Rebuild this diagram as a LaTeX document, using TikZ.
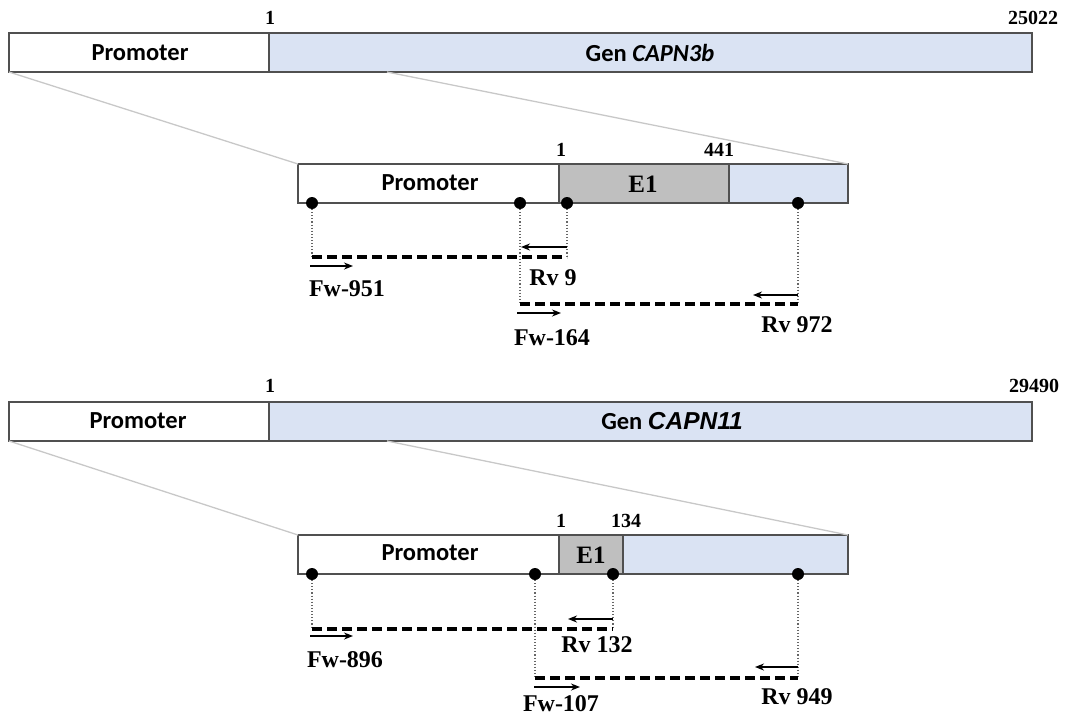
\documentclass[tikz,border=0pt]{standalone}
\usepackage{fontspec}
\setmainfont{Liberation Serif}
\newfontfamily\calfont{Carlito}
\newfontfamily\arialfont{Liberation Sans}
\usetikzlibrary{arrows.meta}
\definecolor{genblue}{HTML}{DAE3F3}
\definecolor{exgray}{HTML}{BFBFBF}
\definecolor{border}{HTML}{505050}
\definecolor{zoomline}{HTML}{C8C8C8}
\tikzset{
  seg/.style={draw=border, line width=1.6pt, anchor=north west, inner sep=0pt, outer sep=0pt},
  sanslbl/.style={font=\calfont\bfseries\fontsize{24.5}{28}\selectfont},
  numlbl/.style={font=\bfseries\fontsize{20}{22}\selectfont, inner sep=0pt},
  primlbl/.style={font=\bfseries\fontsize{24}{27}\selectfont, inner sep=0pt},
  exlbl/.style={font=\bfseries\fontsize{25}{28}\selectfont, inner sep=0pt},
  dotnode/.style={circle, fill=black, inner sep=0pt, outer sep=0pt, minimum size=12pt},
  zoomln/.style={draw=zoomline, line width=1.3pt},
  guide/.style={draw=gray!80!black, line width=1.1pt, dotted},
  product/.style={draw=black, line width=3.4pt, dash pattern=on 10pt off 5pt},
  primer/.style={draw=black, line width=1.7pt, -{Stealth[length=9pt,width=7pt]}},
}
\begin{document}
\begin{tikzpicture}[x=1pt,y=-1pt]
\useasboundingbox (0,0) rectangle (1065,712);
% ===== CAPN3b =====
\node[seg, fill=white, minimum width=260pt, minimum height=39pt] (p1) at (9,33) {};
\node[seg, fill=genblue, minimum width=763pt, minimum height=39pt] (g1) at (269,33) {};
\node[sanslbl] (p1t) at (140,53) {Promoter};
\node[sanslbl] (g1t) at (650,53) {Gen \textit{CAPN3b}};
\node[numlbl] (n1a) at (270,18) {1};
\node[numlbl] (n1b) at (1033,18) {25022};
\node[seg, fill=white, minimum width=261pt, minimum height=39pt] (lp1) at (298,164) {};
\node[seg, fill=exgray, minimum width=170pt, minimum height=39pt] (le1) at (559,164) {};
\node[seg, fill=genblue, minimum width=119pt, minimum height=39pt] (lg1) at (729,164) {};
\node[sanslbl] (lp1t) at (430,183) {Promoter};
\node[exlbl] (le1t) at (643,184) {E1};
\node[numlbl] (n1c) at (561,150) {1};
\node[numlbl] (n1d) at (719,150) {441};
\coordinate (z1) at (387,72);
\draw[zoomln] (p1.south west) -- (lp1.north west);
\draw[zoomln] (z1) -- (lg1.north east);
% markers
\node[dotnode] (d11) at (312,203) {};
\node[dotnode] (d12) at (520,203) {};
\node[dotnode] (d13) at (567,203) {};
\node[dotnode] (d14) at (798,203) {};
\coordinate (c11) at (312,257);
\coordinate (c13) at (567,257);
\coordinate (c12) at (520,304);
\coordinate (c14) at (798,304);
\draw[guide] (d11) -- (c11);
\draw[guide] (d13) -- (c13);
\draw[guide] (d12) -- (c12);
\draw[guide] (d14) -- (c14);
\draw[product] (c11) -- (c13);
\draw[product] (c12) -- (c14);
\coordinate (a1s) at (310,266); \coordinate (a1e) at (353,266);
\coordinate (a2s) at (567,247); \coordinate (a2e) at (521,247);
\coordinate (a3s) at (517,313); \coordinate (a3e) at (561,313);
\coordinate (a4s) at (798,295); \coordinate (a4e) at (753,295);
\draw[primer] (a1s) -- (a1e);
\draw[primer] (a2s) -- (a2e);
\draw[primer] (a3s) -- (a3e);
\draw[primer] (a4s) -- (a4e);
\node[primlbl] (l11) at (347,289) {Fw-951};
\node[primlbl] (l12) at (553,278) {Rv 9};
\node[primlbl] (l13) at (552,338) {Fw-164};
\node[primlbl] (l14) at (797,325) {Rv 972};
% ===== CAPN11 =====
\node[seg, fill=white, minimum width=260pt, minimum height=39pt] (p2) at (9,402) {};
\node[seg, fill=genblue, minimum width=763pt, minimum height=39pt] (g2) at (269,402) {};
\node[sanslbl] (p2t) at (138,421) {Promoter};
\node[font=\calfont\bfseries\fontsize{24.5}{28}\selectfont] (g2t) at (672,421) {Gen {\arialfont\bfseries\itshape CAPN11}};
\node[numlbl] (n2a) at (270,386) {1};
\node[numlbl] (n2b) at (1034,386) {29490};
\node[seg, fill=white, minimum width=261pt, minimum height=39pt] (lp2) at (298,535) {};
\node[seg, fill=exgray, minimum width=64pt, minimum height=39pt] (le2) at (559,535) {};
\node[seg, fill=genblue, minimum width=225pt, minimum height=39pt] (lg2) at (623,535) {};
\node[sanslbl] (lp2t) at (430,553) {Promoter};
\node[exlbl] (le2t) at (591,555) {E1};
\node[numlbl] (n2c) at (561,521) {1};
\node[numlbl] (n2d) at (626,521) {134};
\coordinate (z2) at (387,441);
\draw[zoomln] (p2.south west) -- (lp2.north west);
\draw[zoomln] (z2) -- (lg2.north east);
\node[dotnode] (d21) at (312,574) {};
\node[dotnode] (d22) at (535,574) {};
\node[dotnode] (d23) at (613,574) {};
\node[dotnode] (d24) at (798,574) {};
\coordinate (c21) at (312,629);
\coordinate (c23) at (613,629);
\coordinate (c22) at (535,678);
\coordinate (c24) at (798,678);
\draw[guide] (d21) -- (c21);
\draw[guide] (d23) -- (c23);
\draw[guide] (d22) -- (c22);
\draw[guide] (d24) -- (c24);
\draw[product] (c21) -- (c23);
\draw[product] (c22) -- (c24);
\coordinate (b1s) at (310,636); \coordinate (b1e) at (353,636);
\coordinate (b2s) at (613,619); \coordinate (b2e) at (568,619);
\coordinate (b3s) at (534,687); \coordinate (b3e) at (580,687);
\coordinate (b4s) at (798,667); \coordinate (b4e) at (755,667);
\draw[primer] (b1s) -- (b1e);
\draw[primer] (b2s) -- (b2e);
\draw[primer] (b3s) -- (b3e);
\draw[primer] (b4s) -- (b4e);
\node[primlbl] (l21) at (345,660) {Fw-896};
\node[primlbl] (l22) at (597,645) {Rv 132};
\node[primlbl] (l23) at (561,704) {Fw-107};
\node[primlbl] (l24) at (797,697) {Rv 949};
\end{tikzpicture}
\end{document}
